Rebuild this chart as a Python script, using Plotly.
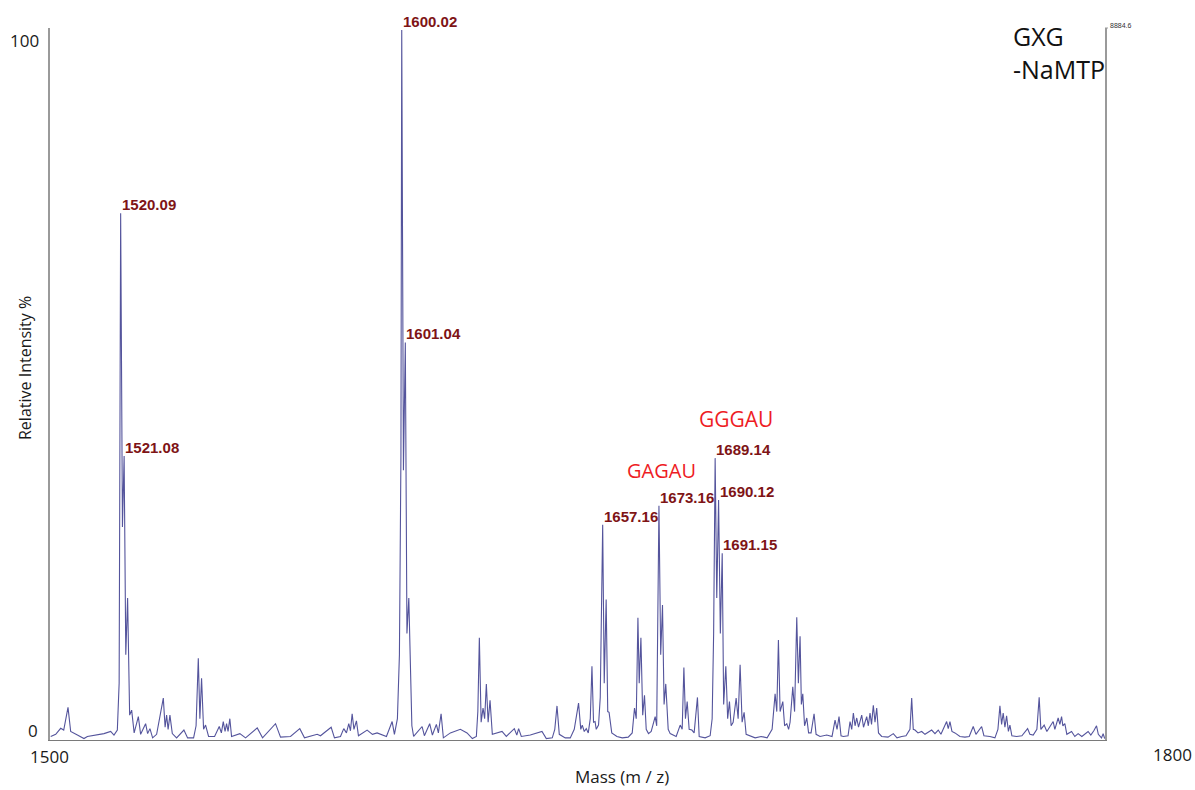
import plotly.graph_objects as go

# MALDI spectrum trace: m/z and relative intensity (%)
mz = [
    1500.20, 1501.62, 1503.04, 1503.90, 1505.12, 1505.88, 1507.79, 1509.66, 1510.63, 1513.47,
    1515.35, 1517.25, 1518.19, 1519.15, 1519.66, 1520.09, 1520.60, 1521.08, 1521.55, 1522.07,
    1522.65, 1523.22, 1523.93, 1525.12, 1525.77, 1527.19, 1527.76, 1528.42, 1529.18, 1530.32,
    1530.97, 1532.22, 1532.73, 1533.16, 1533.59, 1534.10, 1534.78, 1536.00, 1538.08, 1539.13,
    1540.83, 1541.54, 1542.17, 1542.62, 1543.10, 1543.67, 1544.24, 1545.09, 1546.80, 1548.13,
    1548.73, 1549.27, 1549.78, 1550.21, 1550.63, 1551.14, 1551.63, 1553.99, 1555.61, 1558.93,
    1560.44, 1564.13, 1565.55, 1568.39, 1571.03, 1572.37, 1575.98, 1576.91, 1579.95, 1580.89,
    1582.60, 1583.53, 1584.30, 1584.96, 1585.44, 1585.92, 1586.43, 1587.14, 1587.71, 1590.18,
    1591.69, 1593.02, 1595.67, 1597.29, 1597.94, 1598.79, 1599.36, 1599.79, 1600.02, 1600.50,
    1601.04, 1601.50, 1602.03, 1602.50, 1602.90, 1603.40, 1605.81, 1606.46, 1607.97, 1608.74,
    1609.87, 1610.44, 1611.21, 1611.86, 1613.85, 1616.69, 1618.59, 1620.10, 1621.24, 1621.66,
    1622.09, 1622.60, 1623.14, 1623.60, 1624.08, 1624.59, 1625.13, 1625.78, 1628.54, 1629.76,
    1632.03, 1632.74, 1633.26, 1634.02, 1636.58, 1639.90, 1641.13, 1642.83, 1643.54, 1644.17,
    1644.82, 1646.52, 1647.94, 1649.08, 1650.30, 1650.93, 1651.35, 1651.92, 1652.49, 1653.06,
    1653.63, 1654.11, 1654.56, 1654.99, 1655.33, 1655.98, 1656.47, 1657.16, 1657.60, 1658.15,
    1658.60, 1658.98, 1659.74, 1661.21, 1662.72, 1664.42, 1665.56, 1666.21, 1666.70, 1667.18,
    1667.55, 1668.03, 1668.54, 1669.05, 1669.54, 1670.19, 1670.96, 1672.09, 1672.52, 1673.16,
    1673.66, 1674.17, 1674.62, 1675.10, 1675.79, 1676.36, 1678.06, 1679.20, 1679.77, 1680.25,
    1680.70, 1681.19, 1681.75, 1682.52, 1683.17, 1684.11, 1684.60, 1686.30, 1687.72, 1688.29,
    1688.71, 1689.14, 1689.60, 1690.12, 1690.62, 1691.15, 1691.56, 1692.18, 1692.70, 1693.21,
    1693.69, 1694.26, 1695.11, 1695.68, 1696.24, 1696.81, 1697.38, 1697.95, 1698.60, 1700.51,
    1702.21, 1703.92, 1705.34, 1706.19, 1706.67, 1707.13, 1707.61, 1708.38, 1708.89, 1709.51,
    1710.03, 1710.45, 1711.22, 1711.73, 1712.35, 1712.81, 1713.29, 1713.66, 1714.06, 1714.57,
    1715.20, 1715.71, 1716.42, 1717.27, 1717.84, 1718.97, 1720.88, 1722.38, 1723.24, 1723.80,
    1724.37, 1724.94, 1725.59, 1726.93, 1727.50, 1727.98, 1728.44, 1728.92, 1729.40, 1729.91,
    1730.82, 1731.33, 1732.24, 1732.70, 1733.18, 1733.61, 1734.12, 1734.60, 1735.08, 1735.59,
    1736.50, 1738.29, 1739.80, 1740.85, 1742.19, 1743.41, 1744.54, 1745.03, 1745.48, 1745.97,
    1746.82, 1747.87, 1748.81, 1750.71, 1751.65, 1752.58, 1753.35, 1754.20, 1754.97, 1755.43,
    1755.91, 1756.48, 1757.33, 1758.75, 1760.17, 1761.39, 1762.53, 1763.30, 1764.92, 1765.57,
    1767.27, 1768.70, 1769.55, 1770.12, 1770.60, 1771.05, 1771.54, 1772.02, 1772.53, 1772.96,
    1773.52, 1774.86, 1776.37, 1777.99, 1778.64, 1779.58, 1780.63, 1781.28, 1781.76, 1782.70,
    1783.47, 1785.26, 1785.74, 1786.68, 1787.17, 1787.65, 1788.02, 1788.58, 1789.15, 1790.49,
    1791.42, 1792.36, 1793.41, 1795.20, 1795.97, 1796.82, 1797.59, 1798.10, 1799.01, 1799.47,
    1799.90,
]

intensity = [
    0.5, 0.8, 1.65, 1.4, 4.6, 1.2, 0.7, 0.2, 0.5, 0.7,
    0.9, 1.2, 0.7, 1.4, 8.0, 74.2, 30.0, 40.0, 12.0, 20.0,
    3.5, 4.2, 1.0, 3.3, 0.8, 2.3, 0.9, 1.6, 0.3, 0.8,
    2.5, 5.9, 1.8, 3.5, 1.5, 3.5, 0.9, 0.3, 1.4, 0.3,
    0.3, 2.0, 11.5, 3.0, 8.7, 1.5, 2.1, 0.5, 0.5, 1.9,
    1.0, 2.6, 1.2, 2.3, 1.2, 3.0, 0.5, 0.9, 0.3, 1.7,
    0.3, 2.3, 0.4, 0.5, 1.6, 0.3, 0.8, 0.6, 1.8, 0.3,
    0.5, 1.6, 1.0, 2.3, 1.3, 3.7, 1.5, 2.7, 0.6, 1.4,
    0.8, 1.0, 0.5, 2.6, 0.8, 3.0, 12.0, 40.0, 100.0, 38.0,
    56.0, 15.0, 20.0, 8.0, 2.0, 0.5, 1.9, 0.6, 2.3, 0.7,
    2.2, 1.0, 3.7, 0.3, 1.0, 1.5, 1.0, 0.2, 0.5, 4.0,
    14.4, 2.5, 4.5, 3.0, 7.9, 2.5, 5.6, 0.8, 1.2, 0.5,
    1.6, 0.7, 1.6, 0.5, 0.7, 1.2, 0.2, 0.3, 1.5, 4.8,
    0.8, 0.3, 0.3, 1.5, 5.2, 1.5, 2.1, 1.2, 1.6, 1.0,
    3.0, 10.4, 2.5, 2.6, 1.5, 2.1, 6.0, 30.3, 8.0, 19.8,
    4.0, 3.9, 1.0, 0.5, 0.3, 0.4, 1.0, 4.5, 3.0, 17.2,
    8.0, 14.4, 3.5, 6.3, 1.5, 0.9, 1.2, 3.3, 2.0, 33.0,
    12.0, 19.0, 5.0, 7.9, 1.5, 0.9, 0.5, 2.1, 1.5, 10.2,
    3.0, 5.4, 1.5, 1.4, 1.0, 6.0, 0.5, 0.3, 0.6, 3.0,
    15.0, 39.7, 20.0, 33.8, 15.0, 26.3, 5.0, 10.4, 3.0, 5.4,
    2.0, 2.5, 5.9, 3.0, 10.6, 2.5, 3.9, 0.8, 0.7, 0.3,
    0.5, 0.3, 1.5, 6.5, 4.0, 14.1, 4.0, 5.4, 2.0, 2.3,
    1.5, 2.5, 7.5, 4.0, 17.3, 8.0, 14.6, 5.0, 6.5, 2.0,
    3.1, 1.0, 1.0, 3.7, 0.8, 0.5, 0.7, 0.5, 2.8, 1.5,
    3.3, 0.6, 0.5, 0.6, 2.6, 1.5, 3.8, 2.0, 3.1, 1.8,
    3.5, 1.8, 3.3, 2.0, 3.8, 2.2, 4.9, 2.5, 4.5, 1.0,
    0.5, 0.4, 0.9, 0.3, 0.5, 0.6, 1.5, 5.9, 1.5, 1.4,
    1.0, 1.2, 0.8, 1.4, 0.9, 1.4, 0.8, 1.8, 2.6, 1.6,
    2.6, 1.2, 1.0, 0.5, 0.4, 0.5, 1.9, 0.8, 1.9, 0.6,
    0.5, 0.3, 1.5, 4.8, 2.2, 3.8, 1.8, 3.4, 1.2, 2.1,
    0.6, 0.5, 0.6, 1.6, 0.8, 0.7, 1.5, 6.0, 1.5, 2.1,
    1.2, 2.6, 1.5, 3.1, 2.2, 3.3, 2.0, 2.3, 0.8, 1.2,
    0.5, 0.9, 0.5, 1.2, 0.7, 1.3, 2.0, 0.8, 0.3, 0.9,
    0.2,
]
assert len(mz) == len(intensity)

# Annotated peaks (m/z values taken from the trace)
labelled_mz = [1520.09, 1521.08, 1600.02, 1601.04, 1657.16, 1673.16, 1689.14, 1690.12, 1691.15]

# Sequence assignments
seq_labels = ["GAGAU", "GGGAU"]

x_range = [1500, 1800]
y_range = [0, 100.28]
x_tick_text = ["1500", "1800"]
y_tick_text = ["0", "100"]
max_counts = "8884.6"
sample_lines = ["GXG", "-NaMTP"]

W, H = 1195, 790
ML, MR, MT, MB = 50, 90, 28, 50
PW, PH = W - ML - MR, H - MT - MB


def pp(xp, yp):
    """Pixel position -> paper coordinates."""
    return (xp - ML) / PW, (H - MB - yp) / PH


fig = go.Figure()
fig.add_trace(go.Scatter(
    x=mz, y=intensity, mode="lines",
    line=dict(color="#54549c", width=1.1),
    hoverinfo="x+y", showlegend=False,
))

ann = []
label_font = dict(family="Liberation Sans, Arial, sans-serif", size=15, color="#7e1416")
for m in labelled_mz:
    i = mz.index(m)
    ann.append(dict(
        x=m, y=intensity[i], xref="x", yref="y",
        text=f"<b>{m:.2f}</b>", showarrow=False,
        xanchor="left", yanchor="bottom", xshift=-1, yshift=-2,
        font=label_font,
    ))

for text, (xp, yp), size in zip(seq_labels, [(661, 470), (736, 419)], [20, 21]):
    px_, py_ = pp(xp, yp)
    ann.append(dict(x=px_, y=py_, xref="paper", yref="paper", text=text,
                    showarrow=False, xanchor="center", yanchor="middle",
                    font=dict(family="Open Sans, sans-serif", size=size, color="#ee1c24")))

tick_font = dict(family="Open Sans, sans-serif", size=17, color="#1a1a1a")
for text, (xp, yp) in zip(y_tick_text + x_tick_text,
                          [(33, 730), (24, 41), (49, 756), (1172, 755)]):
    px_, py_ = pp(xp, yp)
    ann.append(dict(x=px_, y=py_, xref="paper", yref="paper", text=text,
                    showarrow=False, xanchor="center", yanchor="middle", font=tick_font))

# axis titles
px_, py_ = pp(622, 776)
ann.append(dict(x=px_, y=py_, xref="paper", yref="paper", text="Mass (m / z)",
                showarrow=False, xanchor="center", yanchor="middle",
                font=dict(family="Open Sans, sans-serif", size=17, color="#1a1a1a")))
px_, py_ = pp(25, 368)
ann.append(dict(x=px_, y=py_, xref="paper", yref="paper", text="Relative Intensity %",
                showarrow=False, xanchor="center", yanchor="middle", textangle=-90,
                font=dict(family="Open Sans, sans-serif", size=16, color="#1a1a1a")))

# sample name
for text, (xp, yp) in zip(sample_lines, [(1011, 36), (1011, 69)]):
    px_, py_ = pp(xp, yp)
    ann.append(dict(x=px_, y=py_, xref="paper", yref="paper", text=text,
                    showarrow=False, xanchor="left", yanchor="middle",
                    font=dict(family="Open Sans, sans-serif", size=25, color="#111111")))

# peak count readout at the top of the right frame
px_, py_ = pp(1108, 25)
ann.append(dict(x=px_, y=py_, xref="paper", yref="paper", text=max_counts,
                showarrow=False, xanchor="left", yanchor="middle",
                font=dict(family="Liberation Sans, Arial, sans-serif", size=7, color="#333333")))

fig.update_layout(
    width=W, height=H,
    margin=dict(l=ML, r=MR, t=MT, b=MB, pad=0),
    paper_bgcolor="white", plot_bgcolor="white",
    xaxis=dict(range=x_range, showgrid=False, zeroline=False, showticklabels=False,
               ticks="", showline=True, linecolor="#7a7a7a", linewidth=1, mirror=False),
    yaxis=dict(range=y_range, showgrid=False, zeroline=False, showticklabels=False,
               ticks="", showline=True, linecolor="#9a9a9a", linewidth=1.5, mirror=True),
    annotations=ann,
    shapes=[dict(type="line", xref="paper", yref="paper",
                 x0=1.0, x1=pp(1108, 0)[0], y0=1.0, y1=1.0,
                 line=dict(color="#9a9a9a", width=1))],
)

fig.write_html("out.html")
